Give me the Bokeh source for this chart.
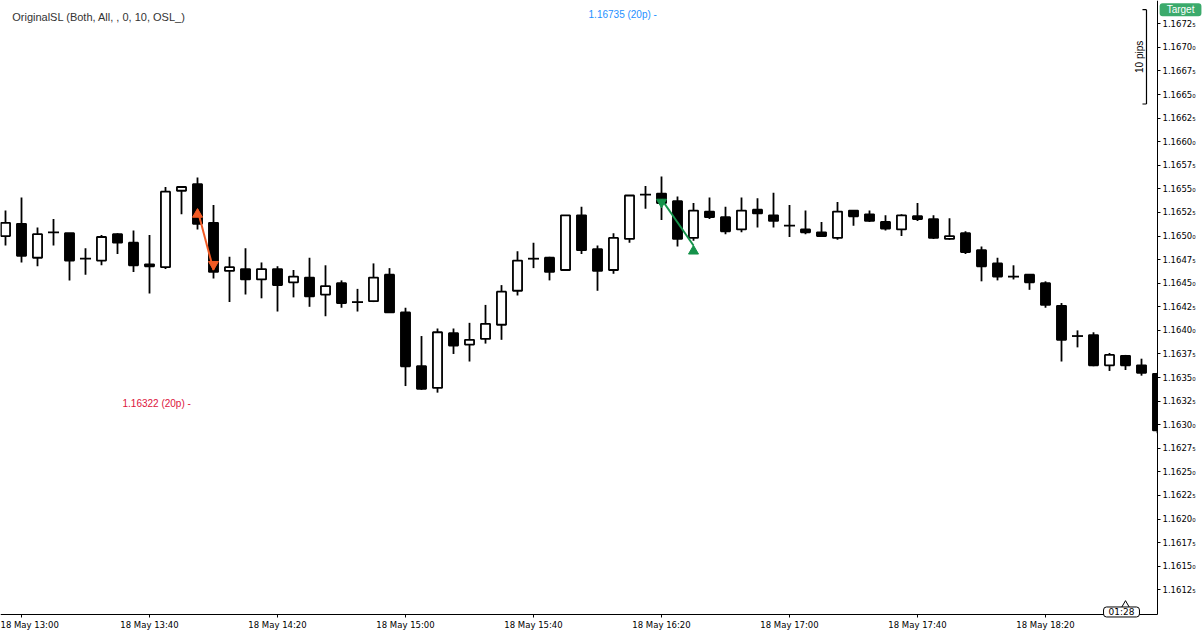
import numpy as np
import pandas as pd
from bokeh.plotting import figure
from bokeh.models import (ColumnDataSource, Range1d, FixedTicker, CustomJSTickFormatter,
                          DatetimeTickFormatter, Label, BoxAnnotation)
from bokeh.embed import file_html
from bokeh.resources import INLINE

# ---------------- data ----------------
day = "2018-05-18"
first_bar = "12:55"
n_bars = 73
bar_minutes = 5

opens = [1.16500, 1.16513, 1.16477, 1.16504, 1.16503, 1.16476, 1.16474, 1.16502, 1.16493, 1.16470,
         1.16467, 1.16548, 1.16555, 1.16514, 1.16463, 1.16465, 1.16454, 1.16465, 1.16451, 1.16456,
         1.16438, 1.16450, 1.16430, 1.16431, 1.16459, 1.16419, 1.16362, 1.16339, 1.16397, 1.16385,
         1.16391, 1.16406, 1.16442, 1.16476, 1.16477, 1.16464, 1.16522, 1.16486, 1.16464, 1.16497,
         1.16544, 1.16545, 1.16537, 1.16498, 1.16526, 1.16520, 1.16507, 1.16528, 1.16522, 1.16511,
         1.16507, 1.16504, 1.16498, 1.16527, 1.16523, 1.16515, 1.16507, 1.16521, 1.16518, 1.16497,
         1.16503, 1.16485, 1.16471, 1.16457, 1.16459, 1.16450, 1.16426, 1.16394, 1.16395, 1.16363,
         1.16373, 1.16363, 1.16354]
highs = [1.16527, 1.16541, 1.16509, 1.16518, 1.16503, 1.16487, 1.16501, 1.16503, 1.16506, 1.16501,
         1.16552, 1.16552, 1.16562, 1.16533, 1.16478, 1.16487, 1.16472, 1.16468, 1.16464, 1.16477,
         1.16469, 1.16453, 1.16444, 1.16471, 1.16466, 1.16424, 1.16394, 1.16402, 1.16402, 1.16408,
         1.16427, 1.16448, 1.16484, 1.16493, 1.16478, 1.16522, 1.16531, 1.16490, 1.16503, 1.16543,
         1.16553, 1.16563, 1.16542, 1.16535, 1.16541, 1.16531, 1.16541, 1.16540, 1.16546, 1.16533,
         1.16527, 1.16515, 1.16536, 1.16527, 1.16527, 1.16522, 1.16523, 1.16535, 1.16522, 1.16519,
         1.16505, 1.16489, 1.16477, 1.16469, 1.16459, 1.16452, 1.16429, 1.16400, 1.16398, 1.16376,
         1.16374, 1.16370, 1.16355]
lows = [1.16490, 1.16472, 1.16468, 1.16490, 1.16453, 1.16459, 1.16469, 1.16481, 1.16462, 1.16439,
        1.16465, 1.16523, 1.16507, 1.16455, 1.16430, 1.16438, 1.16434, 1.16420, 1.16435, 1.16425,
        1.16415, 1.16424, 1.16420, 1.16430, 1.16419, 1.16341, 1.16337, 1.16334, 1.16375, 1.16367,
        1.16386, 1.16390, 1.16437, 1.16466, 1.16453, 1.16464, 1.16481, 1.16442, 1.16460, 1.16493,
        1.16529, 1.16517, 1.16489, 1.16495, 1.16518, 1.16502, 1.16504, 1.16509, 1.16509, 1.16499,
        1.16502, 1.16500, 1.16496, 1.16511, 1.16515, 1.16506, 1.16500, 1.16516, 1.16497, 1.16496,
        1.16481, 1.16452, 1.16453, 1.16454, 1.16443, 1.16424, 1.16367, 1.16382, 1.16362, 1.16357,
        1.16358, 1.16352, 1.16291]
closes = [1.16514, 1.16479, 1.16502, 1.16504, 1.16474, 1.16476, 1.16499, 1.16493, 1.16469, 1.16468,
          1.16547, 1.16552, 1.16513, 1.16462, 1.16467, 1.16454, 1.16465, 1.16448, 1.16457, 1.16436,
          1.16447, 1.16429, 1.16430, 1.16456, 1.16419, 1.16362, 1.16338, 1.16398, 1.16384, 1.16390,
          1.16407, 1.16441, 1.16474, 1.16476, 1.16462, 1.16522, 1.16485, 1.16463, 1.16498, 1.16543,
          1.16544, 1.16535, 1.16497, 1.16527, 1.16520, 1.16505, 1.16527, 1.16524, 1.16516, 1.16511,
          1.16504, 1.16500, 1.16526, 1.16521, 1.16516, 1.16508, 1.16522, 1.16518, 1.16498, 1.16500,
          1.16483, 1.16468, 1.16457, 1.16457, 1.16451, 1.16427, 1.16390, 1.16394, 1.16363, 1.16374,
          1.16363, 1.16355, 1.16294]

x_tick_times = ["13:00", "13:40", "14:20", "15:00", "15:40", "16:20", "17:00", "17:40", "18:20"]
y_ticks = [1.16125, 1.16150, 1.16175, 1.16200, 1.16225, 1.16250, 1.16275, 1.16300, 1.16325,
           1.16350, 1.16375, 1.16400, 1.16425, 1.16450, 1.16475, 1.16500, 1.16525, 1.16550,
           1.16575, 1.16600, 1.16625, 1.16650, 1.16675, 1.16700, 1.16725]

indicator_text = "OriginalSL (Both, All, , 0, 10, OSL_)"
target_price = 1.16735
target_text = "1.16735 (20p) -"
stop_price = 1.16322
stop_text = "1.16322 (20p) -"
pips_text = "10 pips"
pips_top = 1.16740
pips_bottom = 1.16640
timer_text = "01:28"
badge_text = "Target"

# trade markers: (time, price)
short_entry_time, short_entry_price = "13:55", 1.16528
short_exit_time, short_exit_price = "14:00", 1.16464
long_entry_time, long_entry_price = "16:20", 1.16539
long_exit_time, long_exit_price = "16:30", 1.16490

# visible window
price_top = 1.167497
price_axis = 1.160988
price_bottom = 1.160808

# ---------------- helpers ----------------
EPOCH = pd.Timestamp("1970-01-01")
MIN = 60000.0


def ms(hhmm, extra_min=0.0):
    return (pd.Timestamp(f"{day} {hhmm}") - EPOCH) / pd.Timedelta(milliseconds=1) + extra_min * MIN


t0 = ms(first_bar)
times = [t0 + i * bar_minutes * MIN for i in range(n_bars)]

o = np.array(opens); h = np.array(highs); l = np.array(lows); c = np.array(closes)
t = np.array(times)
up = c > o
dn = c < o
dj = c == o

body_w = 2.85 * MIN
doji_w = 3.45 * MIN

x_start = ms("13:00", -6.5625)
x_axis_pos = ms("18:55")
x_end = ms("13:00", 369.375)

p = figure(width=1203, height=631, output_backend="svg", toolbar_location=None,
           x_axis_type="datetime", y_axis_location="right",
           x_range=Range1d(x_start, x_end), y_range=Range1d(price_bottom, price_top),
           min_border=0)
p.outline_line_color = None
p.grid.visible = False
p.background_fill_color = "white"
p.border_fill_color = "white"

# wicks
p.segment(x0=t, y0=h, x1=t, y1=l, line_color="black", line_width=1.8)
# bodies
src_up = ColumnDataSource(dict(x=t[up], top=c[up], bottom=o[up]))
src_dn = ColumnDataSource(dict(x=t[dn], top=o[dn], bottom=c[dn]))
p.vbar(x="x", top="top", bottom="bottom", width=body_w, source=src_up,
       fill_color="white", line_color="black", line_width=1.8)
p.vbar(x="x", top="top", bottom="bottom", width=body_w, source=src_dn,
       fill_color="black", line_color="black", line_width=1.8)
# dojis
p.segment(x0=t[dj] - doji_w / 2, y0=o[dj], x1=t[dj] + doji_w / 2, y1=c[dj],
          line_color="black", line_width=1.8)

# trade arrows
orange = "#F15A24"
green = "#15924A"
p.segment(x0=[ms(short_entry_time)], y0=[short_entry_price], x1=[ms(short_exit_time)],
          y1=[short_exit_price], line_color=orange, line_width=2)
p.scatter(x=[ms(short_entry_time)], y=[short_entry_price - 0.00005], marker="triangle",
          size=10, fill_color=orange, line_color=orange)
p.scatter(x=[ms(short_exit_time)], y=[short_exit_price + 0.00006], marker="inverted_triangle",
          size=10, fill_color=orange, line_color=orange)
p.segment(x0=[ms(long_entry_time)], y0=[long_entry_price], x1=[ms(long_exit_time)],
          y1=[long_exit_price], line_color=green, line_width=2)
p.scatter(x=[ms(long_entry_time)], y=[long_entry_price - 0.00003], marker="inverted_triangle",
          size=10, fill_color=green, line_color=green)
p.scatter(x=[ms(long_exit_time)], y=[long_exit_price - 0.00006], marker="triangle",
          size=10, fill_color=green, line_color=green)

# 10 pips bracket
bx = ms("18:51", 0.56)
bx0 = ms("18:50", 0.3)
p.segment(x0=[bx, bx0, bx0], y0=[pips_top, pips_top, pips_bottom],
          x1=[bx, bx, bx], y1=[pips_bottom, pips_top, pips_bottom],
          line_color="black", line_width=1.2)

# timer caret (under the timer box)
p.scatter(x=[ms("18:45")], y=[1.16108], marker="triangle", size=9,
          fill_color="white", line_color="black", line_width=1)

# hide whatever lies right of the price axis
p.add_layout(BoxAnnotation(left=x_axis_pos, fill_color="white", fill_alpha=1.0,
                           line_alpha=0, level="glyph"))

p.add_layout(Label(x=ms("18:49", 0.4), y=(pips_top + pips_bottom) / 2, text=pips_text,
                   angle=np.pi / 2, text_align="center", text_baseline="middle",
                   text_font="Liberation Sans", text_font_size="10px", text_color="black"))

# texts
p.add_layout(Label(x=ms("13:00", -2.9), y=1.16732, text=indicator_text,
                   text_align="left", text_baseline="middle",
                   text_font="Liberation Sans", text_font_size="11px", text_color="#333333"))
p.add_layout(Label(x=ms("15:57", 0.2), y=target_price, text=target_text,
                   text_align="left", text_baseline="middle",
                   text_font="Liberation Sans", text_font_size="10px", text_color="#1E90FF"))
p.add_layout(Label(x=ms("13:31", 0.56), y=stop_price, text=stop_text,
                   text_align="left", text_baseline="middle",
                   text_font="Liberation Sans", text_font_size="10px", text_color="#DC143C"))
p.add_layout(Label(x=ms("19:02", 0.2), y=pips_top, text=badge_text,
                   text_align="center", text_baseline="middle",
                   text_font="Liberation Sans", text_font_size="10px", text_color="white",
                   background_fill_color="#3BAA6B", border_radius=3,
                   padding=dict(left=7, right=7, top=1, bottom=1)))
p.add_layout(Label(x=ms("18:43", 0.75), y=1.161015, text=timer_text,
                   text_align="center", text_baseline="middle",
                   text_font="DejaVu Sans", text_font_size="9px", text_color="black",
                   background_fill_color="white", border_line_color="black",
                   border_line_width=1, border_radius=3,
                   padding=dict(left=5, right=5, top=0, bottom=0)))

# axes
ax = p.xaxis[0]
ax.ticker = FixedTicker(ticks=[ms(s) for s in x_tick_times])
fmt = "%d %b %H:%M"
ax.formatter = DatetimeTickFormatter(milliseconds=fmt, seconds=fmt, minsec=fmt, minutes=fmt,
                                     hourmin=fmt, hours=fmt, days=fmt, months=fmt, years=fmt)
ax.fixed_location = price_axis
ax.bounds = (x_start, x_axis_pos)
ay = p.yaxis[0]
ay.ticker = FixedTicker(ticks=y_ticks)
ay.formatter = CustomJSTickFormatter(code="""
const s = tick.toFixed(5);
const d = s.charAt(s.length - 1);
return s.slice(0, -1) + (d == "5" ? "\\u2085" : "\\u2080");
""")
ay.fixed_location = x_axis_pos
ay.bounds = (price_axis, price_top)
for a in (ax, ay):
    a.axis_line_color = "black"
    a.axis_line_width = 1
    a.major_tick_line_color = "black"
    a.major_tick_in = 0
    a.major_tick_out = 3
    a.minor_tick_line_color = None
    a.major_label_text_font = "DejaVu Sans"
    a.major_label_text_font_size = "8.5px"
    a.major_label_text_color = "black"
    a.major_label_standoff = 2

open("out.html", "w").write(file_html(p, INLINE))
